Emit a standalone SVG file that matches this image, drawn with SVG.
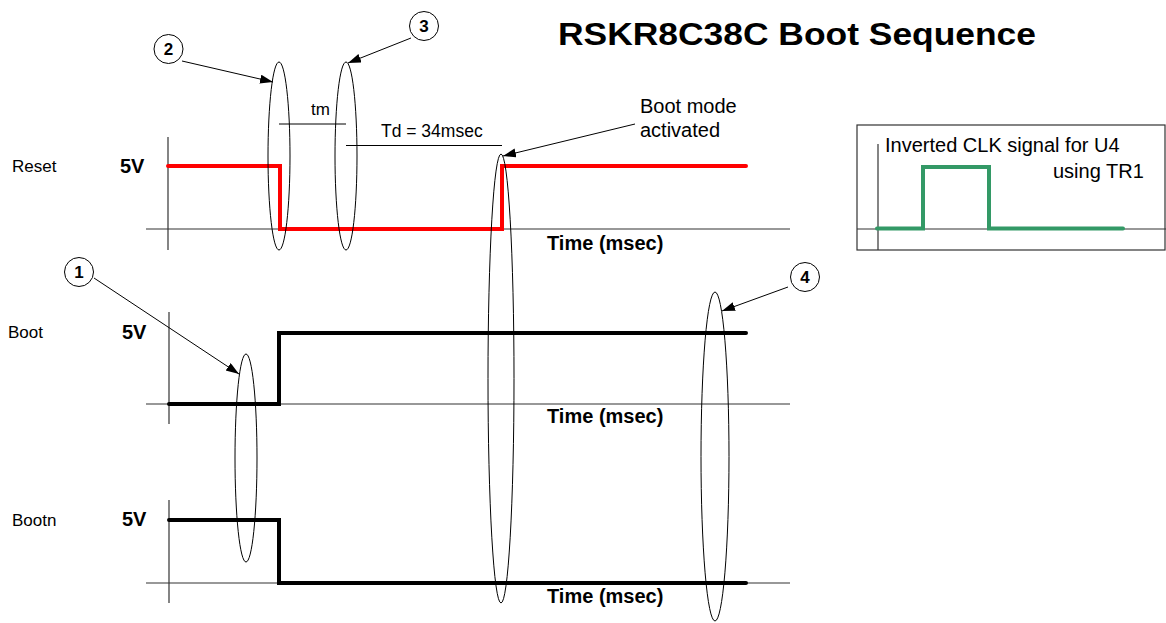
<svg xmlns="http://www.w3.org/2000/svg" width="1166" height="623" viewBox="0 0 1166 623">
<style>
text{font-family:"Liberation Sans",Arial,sans-serif;fill:#000}
.lbl{font-size:17px}
.v{font-size:20px;font-weight:bold}
.note{font-size:20px}
.num{font-size:17px;font-weight:bold;text-anchor:middle}
.axis{stroke:#333;stroke-width:1.2;fill:none}
.sig{fill:none;stroke-width:4;stroke-linejoin:miter;stroke-linecap:round}
.ell{fill:none;stroke:#000;stroke-width:1}
.circ{fill:#fff;stroke:#000;stroke-width:1}
.ptr{stroke:#000;stroke-width:1;fill:none;marker-end:url(#ah)}
.dim{stroke:#000;stroke-width:1;fill:none}
</style>
<defs>
<marker id="ah" markerUnits="userSpaceOnUse" markerWidth="14" markerHeight="10" refX="13" refY="4.5" orient="auto">
<path d="M0,0 L13,4.5 L0,9 z" fill="#000"/>
</marker>
</defs>
<rect width="1166" height="623" fill="#fff"/>

<g id="title">
<text x="558" y="45" font-size="32" font-weight="bold" textLength="478" lengthAdjust="spacingAndGlyphs">RSKR8C38C Boot Sequence</text>
</g>

<g id="reset-plot">
<line class="axis" x1="168" y1="137" x2="168" y2="250"/>
<line class="axis" x1="146" y1="229" x2="790" y2="229"/>
<text class="lbl" x="12" y="172">Reset</text>
<text class="v" x="120" y="173">5V</text>
<polyline class="sig" stroke="#ff0000" points="168,166 280,166 280,229 502,229 502,166 746,166"/>
<text class="v" x="547" y="250">Time (msec)</text>
</g>

<g id="boot-plot">
<line class="axis" x1="169" y1="312" x2="169" y2="424"/>
<line class="axis" x1="146" y1="404" x2="790" y2="404"/>
<text class="lbl" x="8" y="338">Boot</text>
<text class="v" x="122" y="339">5V</text>
<polyline class="sig" stroke="#000" points="169,404 279,404 279,333 746,333"/>
<text class="v" x="547" y="423">Time (msec)</text>
</g>

<g id="bootn-plot">
<line class="axis" x1="169" y1="500" x2="169" y2="603"/>
<line class="axis" x1="146" y1="583" x2="790" y2="583"/>
<text class="lbl" x="12" y="526">Bootn</text>
<text class="v" x="122" y="526">5V</text>
<polyline class="sig" stroke="#000" points="169,520 279,520 279,583 746,583"/>
<text class="v" x="547" y="603">Time (msec)</text>
</g>

<g id="clk-inset">
<rect x="857" y="125" width="308" height="125" fill="none" stroke="#333" stroke-width="1.2"/>
<line class="axis" x1="878" y1="144" x2="878" y2="250"/>
<line class="axis" x1="857" y1="229" x2="1166" y2="229"/>
<polyline class="sig" stroke="#339966" points="877,228.5 923,228.5 923,167 989,167 989,228.5 1123,228.5"/>
<text class="note" x="885" y="152">Inverted CLK signal for U4</text>
<text class="note" x="1053" y="178">using TR1</text>
</g>

<g id="timing-marks">
<text class="lbl" x="311" y="115">tm</text>
<line class="dim" x1="279" y1="124" x2="346" y2="124"/>
<text class="lbl" x="381" y="137" style="font-size:17.5px">Td = 34msec</text>
<line class="dim" x1="346" y1="145.5" x2="502" y2="145.5"/>
<text class="note" x="640" y="113">Boot mode</text>
<text class="note" x="640" y="137">activated</text>
</g>

<g id="ellipses">
<ellipse id="e2" class="ell" cx="279" cy="156" rx="11" ry="94"/>
<ellipse id="e3" class="ell" cx="346" cy="156" rx="11" ry="94"/>
<ellipse id="eboot" class="ell" cx="501" cy="378.5" rx="13" ry="224.5"/>
<ellipse id="e1" class="ell" cx="246" cy="458" rx="11" ry="104"/>
<ellipse id="e4" class="ell" cx="715" cy="456.5" rx="14" ry="164.5"/>
</g>

<g id="connectors">
<line class="ptr" x1="182" y1="61" x2="273" y2="82"/>
<line class="ptr" x1="411" y1="38" x2="348" y2="63"/>
<line class="ptr" x1="635" y1="124" x2="503" y2="156"/>
<line class="ptr" x1="94" y1="278" x2="239" y2="374"/>
<line class="ptr" x1="788" y1="287" x2="722" y2="311"/>
</g>

<g id="callout-1"><circle class="circ" cx="79" cy="272" r="14.5"/><text class="num" x="79" y="278">1</text></g>
<g id="callout-2"><circle class="circ" cx="168.5" cy="49" r="14.5"/><text class="num" x="168.5" y="55">2</text></g>
<g id="callout-3"><circle class="circ" cx="424" cy="26" r="14.5"/><text class="num" x="424" y="32">3</text></g>
<g id="callout-4"><circle class="circ" cx="805" cy="277" r="14.5"/><text class="num" x="805" y="283">4</text></g>
</svg>
